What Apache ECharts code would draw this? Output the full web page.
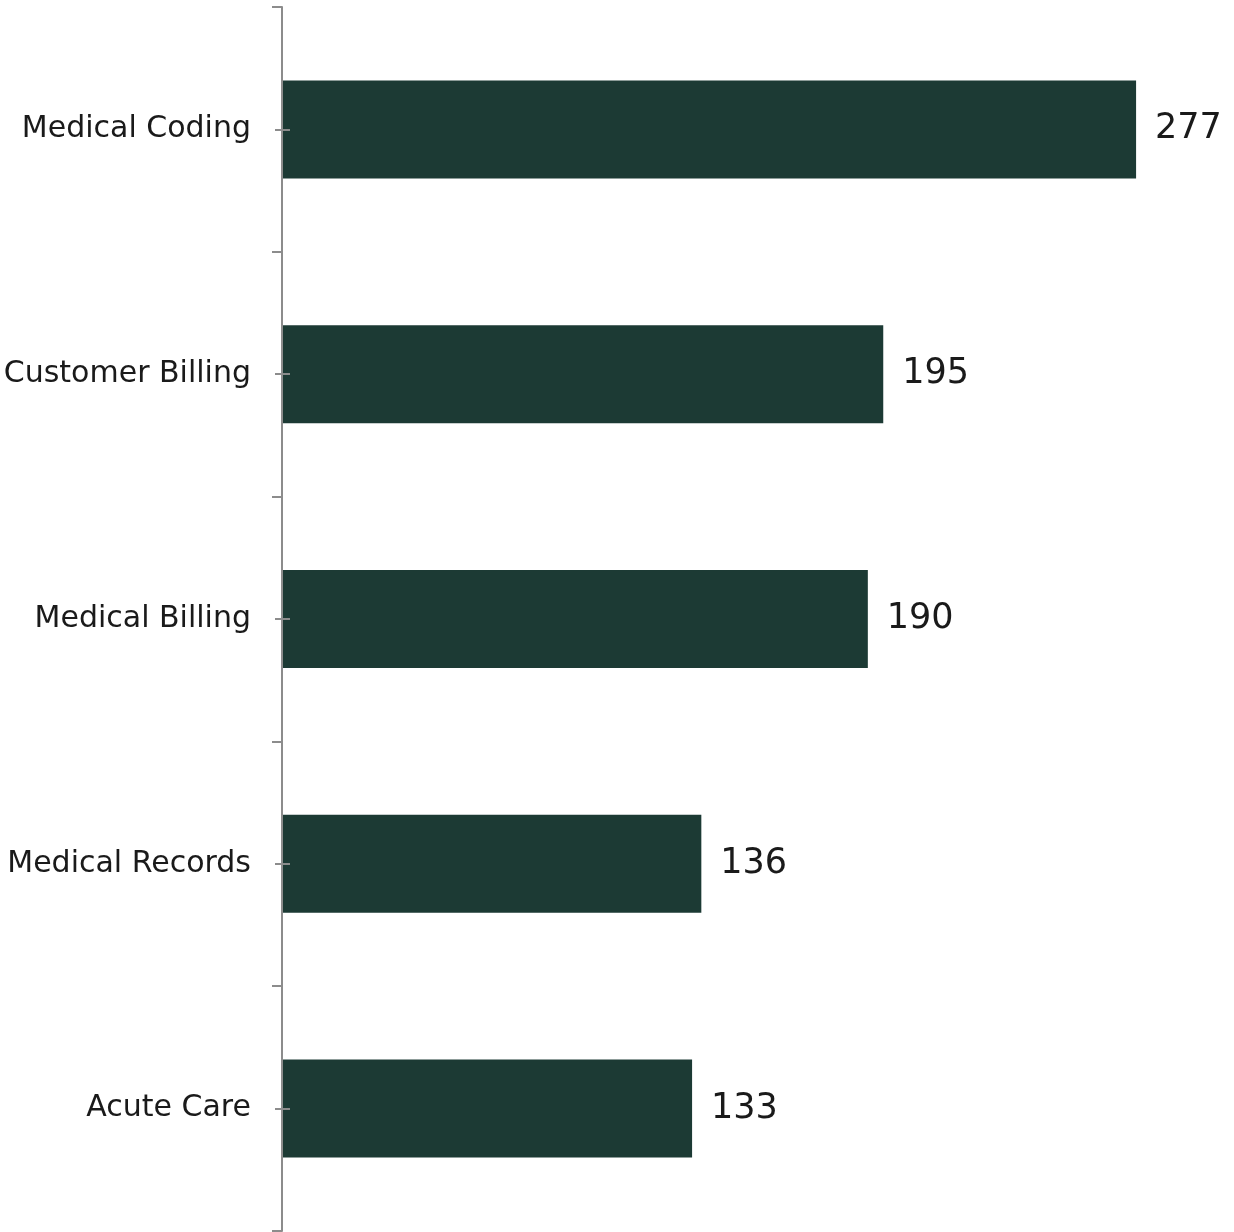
<!DOCTYPE html>
<html>
<head>
<meta charset="utf-8">
<script src="https://cdn.jsdelivr.net/npm/echarts@6/dist/echarts.min.js"></script>
<style>
html,body{margin:0;padding:0;background:#fff;}
#chart{width:1234px;height:1232px;}
</style>
</head>
<body>
<div id="chart"></div>
<script>
const categories = ['Medical Coding', 'Customer Billing', 'Medical Billing', 'Medical Records', 'Acute Care'];
const values = [277, 195, 190, 136, 133];

const chart = echarts.init(document.getElementById('chart'));
const FONT = '"DejaVu Sans"';
const tickAxis = (inside, len) => ({
  type: 'category', data: categories, inverse: true, position: 'left', z: 5,
  axisLine: { show: false },
  axisLabel: { show: false },
  axisTick: { show: true, alignWithLabel: true, inside: inside, length: len, lineStyle: { color: '#8c8c8c', width: 2 } },
  splitLine: { show: false }
});
chart.setOption({
  animation: false,
  backgroundColor: '#ffffff',
  grid: { left: 282, right: 27, top: 7, bottom: 1, containLabel: false },
  xAxis: {
    type: 'value', min: 0, max: 300, show: false,
    splitLine: { show: false }
  },
  yAxis: [
    {
      type: 'category', data: categories, inverse: true, position: 'left', z: 5,
      axisLine: { show: true, lineStyle: { color: '#8c8c8c', width: 2 } },
      axisTick: { show: true, alignWithLabel: false, length: 10, lineStyle: { color: '#8c8c8c', width: 2 } },
      axisLabel: { margin: 31, fontFamily: FONT, fontSize: 30, color: '#1a1a1a', lineHeight: 36, padding: [8, 0, 0, 0] },
      splitLine: { show: false }
    },
    tickAxis(false, 7),
    tickAxis(true, 8)
  ],
  series: [{
    type: 'bar', yAxisIndex: 0, data: values, barWidth: 98,
    itemStyle: { color: '#1c3a34' },
    label: { show: true, position: 'right', distance: 19, fontFamily: FONT, fontSize: 35, color: '#1a1a1a', lineHeight: 42, padding: [8, 0, 0, 0] }
  }]
});
</script>
</body>
</html>
